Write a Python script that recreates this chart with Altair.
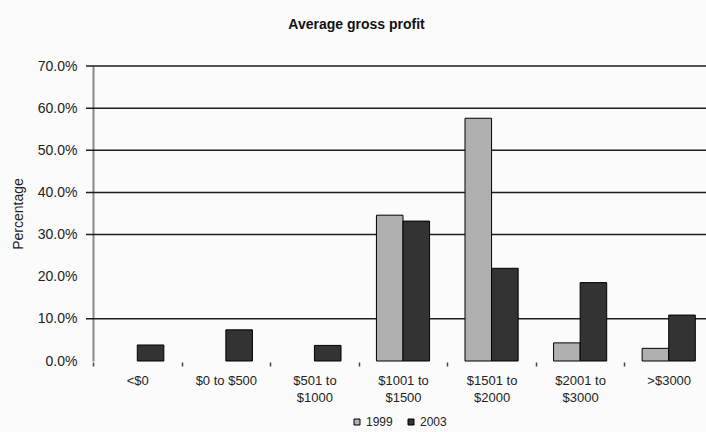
import altair as alt
import pandas as pd

# Share of dealers by average gross profit band, 1999 vs 2003
categories = ["<$0", "$0 to $500", "$501 to $1000", "$1001 to $1500",
              "$1501 to $2000", "$2001 to $3000", ">$3000"]
share_1999 = [0.0, 0.0, 0.0, 0.346, 0.576, 0.043, 0.030]
share_2003 = [0.038, 0.074, 0.037, 0.332, 0.220, 0.186, 0.109]
years = ["1999", "2003"]
y_ticks = [0.0, 0.1, 0.2, 0.3, 0.4, 0.5, 0.6, 0.7]
grid_values = [0.1, 0.3, 0.4, 0.5, 0.6, 0.7]

rows = []
for i, cat in enumerate(categories):
    rows.append({"band": cat, "year": years[0], "share": share_1999[i]})
    rows.append({"band": cat, "year": years[1], "share": share_2003[i]})
bars_df = pd.DataFrame(rows)
grid_df = pd.DataFrame({"g": grid_values})

FONT = "Liberation Sans"
W, H = 613, 295
X_RANGE = 620
STEP = X_RANGE / len(categories)

y_scale = alt.Scale(domain=[0, 0.7], nice=False, zero=True)

grid = alt.Chart(grid_df).mark_rule(color="#1e1e1e", strokeWidth=1.5).encode(
    y=alt.Y("g:Q", scale=y_scale),
    x=alt.value(-7),
    x2=alt.value(W),
)

bars = alt.Chart(bars_df).transform_filter(
    alt.datum.share > 0
).mark_bar(stroke="#000000", strokeWidth=1).encode(
    x=alt.X(
        "band:N",
        sort=categories,
        scale=alt.Scale(range=[0, X_RANGE], paddingInner=0.4, paddingOuter=0.2),
        axis=alt.Axis(
            title=None,
            domain=False,
            labelAngle=0,
            labelFont=FONT,
            labelFontSize=13,
            labelColor="#222222",
            labelLineHeight=17,
            labelPadding=8,
            labelExpr=(
                "length(datum.label) > 10 ? "
                "[slice(datum.label, 0, indexof(datum.label, ' $')), "
                "slice(datum.label, indexof(datum.label, ' $') + 1)] : datum.label"
            ),
            # ticks sit between categories, labels stay centred
            tickOffset=-STEP / 2,
            labelOffset=STEP / 2,
            tickSize=4,
            tickColor="#444444",
            tickWidth=1.5,
            offset=1,
        ),
    ),
    xOffset=alt.XOffset("year:N", scale=alt.Scale(paddingInner=0, paddingOuter=0)),
    y=alt.Y(
        "share:Q",
        scale=y_scale,
        axis=alt.Axis(
            title="Percentage",
            titleFont=FONT,
            titleFontSize=14,
            titleFontWeight="normal",
            titleColor="#222222",
            titlePadding=12,
            values=y_ticks,
            format=".1%",
            labelFont=FONT,
            labelFontSize=14,
            labelColor="#222222",
            labelPadding=16,
            ticks=False,
            grid=False,
            domainColor="#888888",
            domainWidth=2,
        ),
    ),
    color=alt.Color(
        "year:N",
        scale=alt.Scale(domain=years, range=["#b0b0b0", "#333333"]),
        legend=alt.Legend(
            title=None,
            orient="none",
            direction="horizontal",
            legendX=258,
            legendY=350,
            symbolType="square",
            symbolSize=36,
            symbolStrokeColor="#000000",
            symbolStrokeWidth=1,
            labelFont=FONT,
            labelFontSize=12,
            labelColor="#222222",
            labelOffset=3,
            columnPadding=12,
        ),
    ),
)

chart = alt.layer(grid, bars).properties(
    width=W,
    height=H,
    title=alt.TitleParams(
        "Average gross profit",
        font=FONT,
        fontSize=14,
        fontWeight="bold",
        color="#111111",
        anchor="middle",
        dx=-43,
        offset=27,
    ),
    autosize=alt.AutoSizeParams(type="none"),
    padding={"left": 93, "top": 66, "right": 0, "bottom": 71},
    background="#fbfbfb",
).configure_view(stroke=None)

chart.save("out.html", embed_options={"renderer": "svg", "actions": False})
